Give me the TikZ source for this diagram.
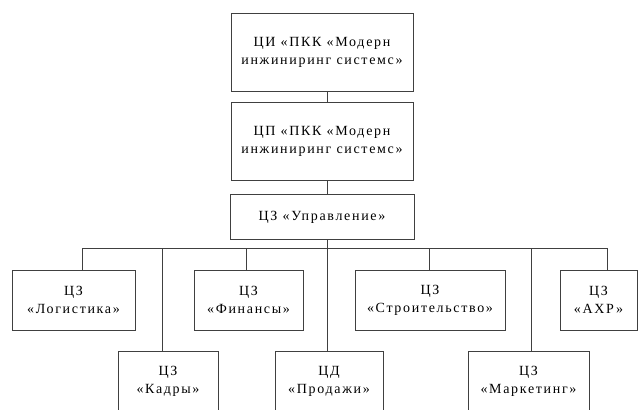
\documentclass[tikz,border=0pt]{standalone}
\usepackage{fontspec}
\setmainfont{Liberation Serif}[LetterSpace=12]
\usetikzlibrary{positioning}

\begin{document}
\begin{tikzpicture}[
    x=1pt, y=-1pt,
    font=\fontsize{14}{18}\selectfont,
    box/.style={draw=black!75, line width=.8pt, align=center, inner sep=0pt, minimum width=182pt, minimum height=78pt},
    unit/.style={draw=black!75, line width=.8pt, align=center, inner sep=0pt, minimum height=60pt},
    link/.style={draw=black!75, line width=.8pt}
  ]
    \useasboundingbox (0,0) rectangle (638,410);
    \clip (0,0) rectangle (638,410);

    \node[box] (ci) at (322,52) {ЦИ «ПКК «Модерн\\инжиниринг системс»};
    \node[box, below=11pt of ci] (cp) {ЦП «ПКК «Модерн\\инжиниринг системс»};
    \node[box, below=13pt of cp, minimum width=184pt, minimum height=45pt] (upr) {ЦЗ «Управление»};
    \coordinate (bus) at (327,248);

    \node[unit, minimum width=123pt] (log) at (73.5,300) {ЦЗ\\«Логистика»};
    \node[unit, minimum width=109pt] (fin) at (248.5,300) {ЦЗ\\«Финансы»};
    \node[unit, minimum width=150pt] (str) at (430,300) {ЦЗ\\«Строительство»};
    \node[unit, minimum width=77pt] (axr) at (598.5,300) {ЦЗ\\«АХР»};
    \node[unit, minimum width=100pt] (kad) at (168,381) {ЦЗ\\«Кадры»};
    \node[unit, minimum width=108pt] (prod) at (329,381) {ЦД\\«Продажи»};
    \node[unit, minimum width=121pt] (mark) at (528.5,381) {ЦЗ\\«Маркетинг»};

    \draw[link] ([xshift=5]ci.south) -- ([xshift=5]cp.north);
    \draw[link] ([xshift=5]cp.south) -- ([xshift=5]upr.north);
    \draw[link] ([xshift=5]upr.south) |- (bus);
    \draw[link] ([xshift=8.5]log.north) |- (bus);
    \draw[link] ([xshift=-2.5]fin.north) |- (bus);
    \draw[link] ([xshift=-1]str.north) |- (bus);
    \draw[link] ([xshift=8.5]axr.north) |- (bus);
    \draw[link] ([xshift=-6]kad.north) |- (bus);
    \draw[link] ([xshift=-2]prod.north) |- (bus);
    \draw[link] ([xshift=2.5]mark.north) |- (bus);
  \end{tikzpicture}
\end{document}
